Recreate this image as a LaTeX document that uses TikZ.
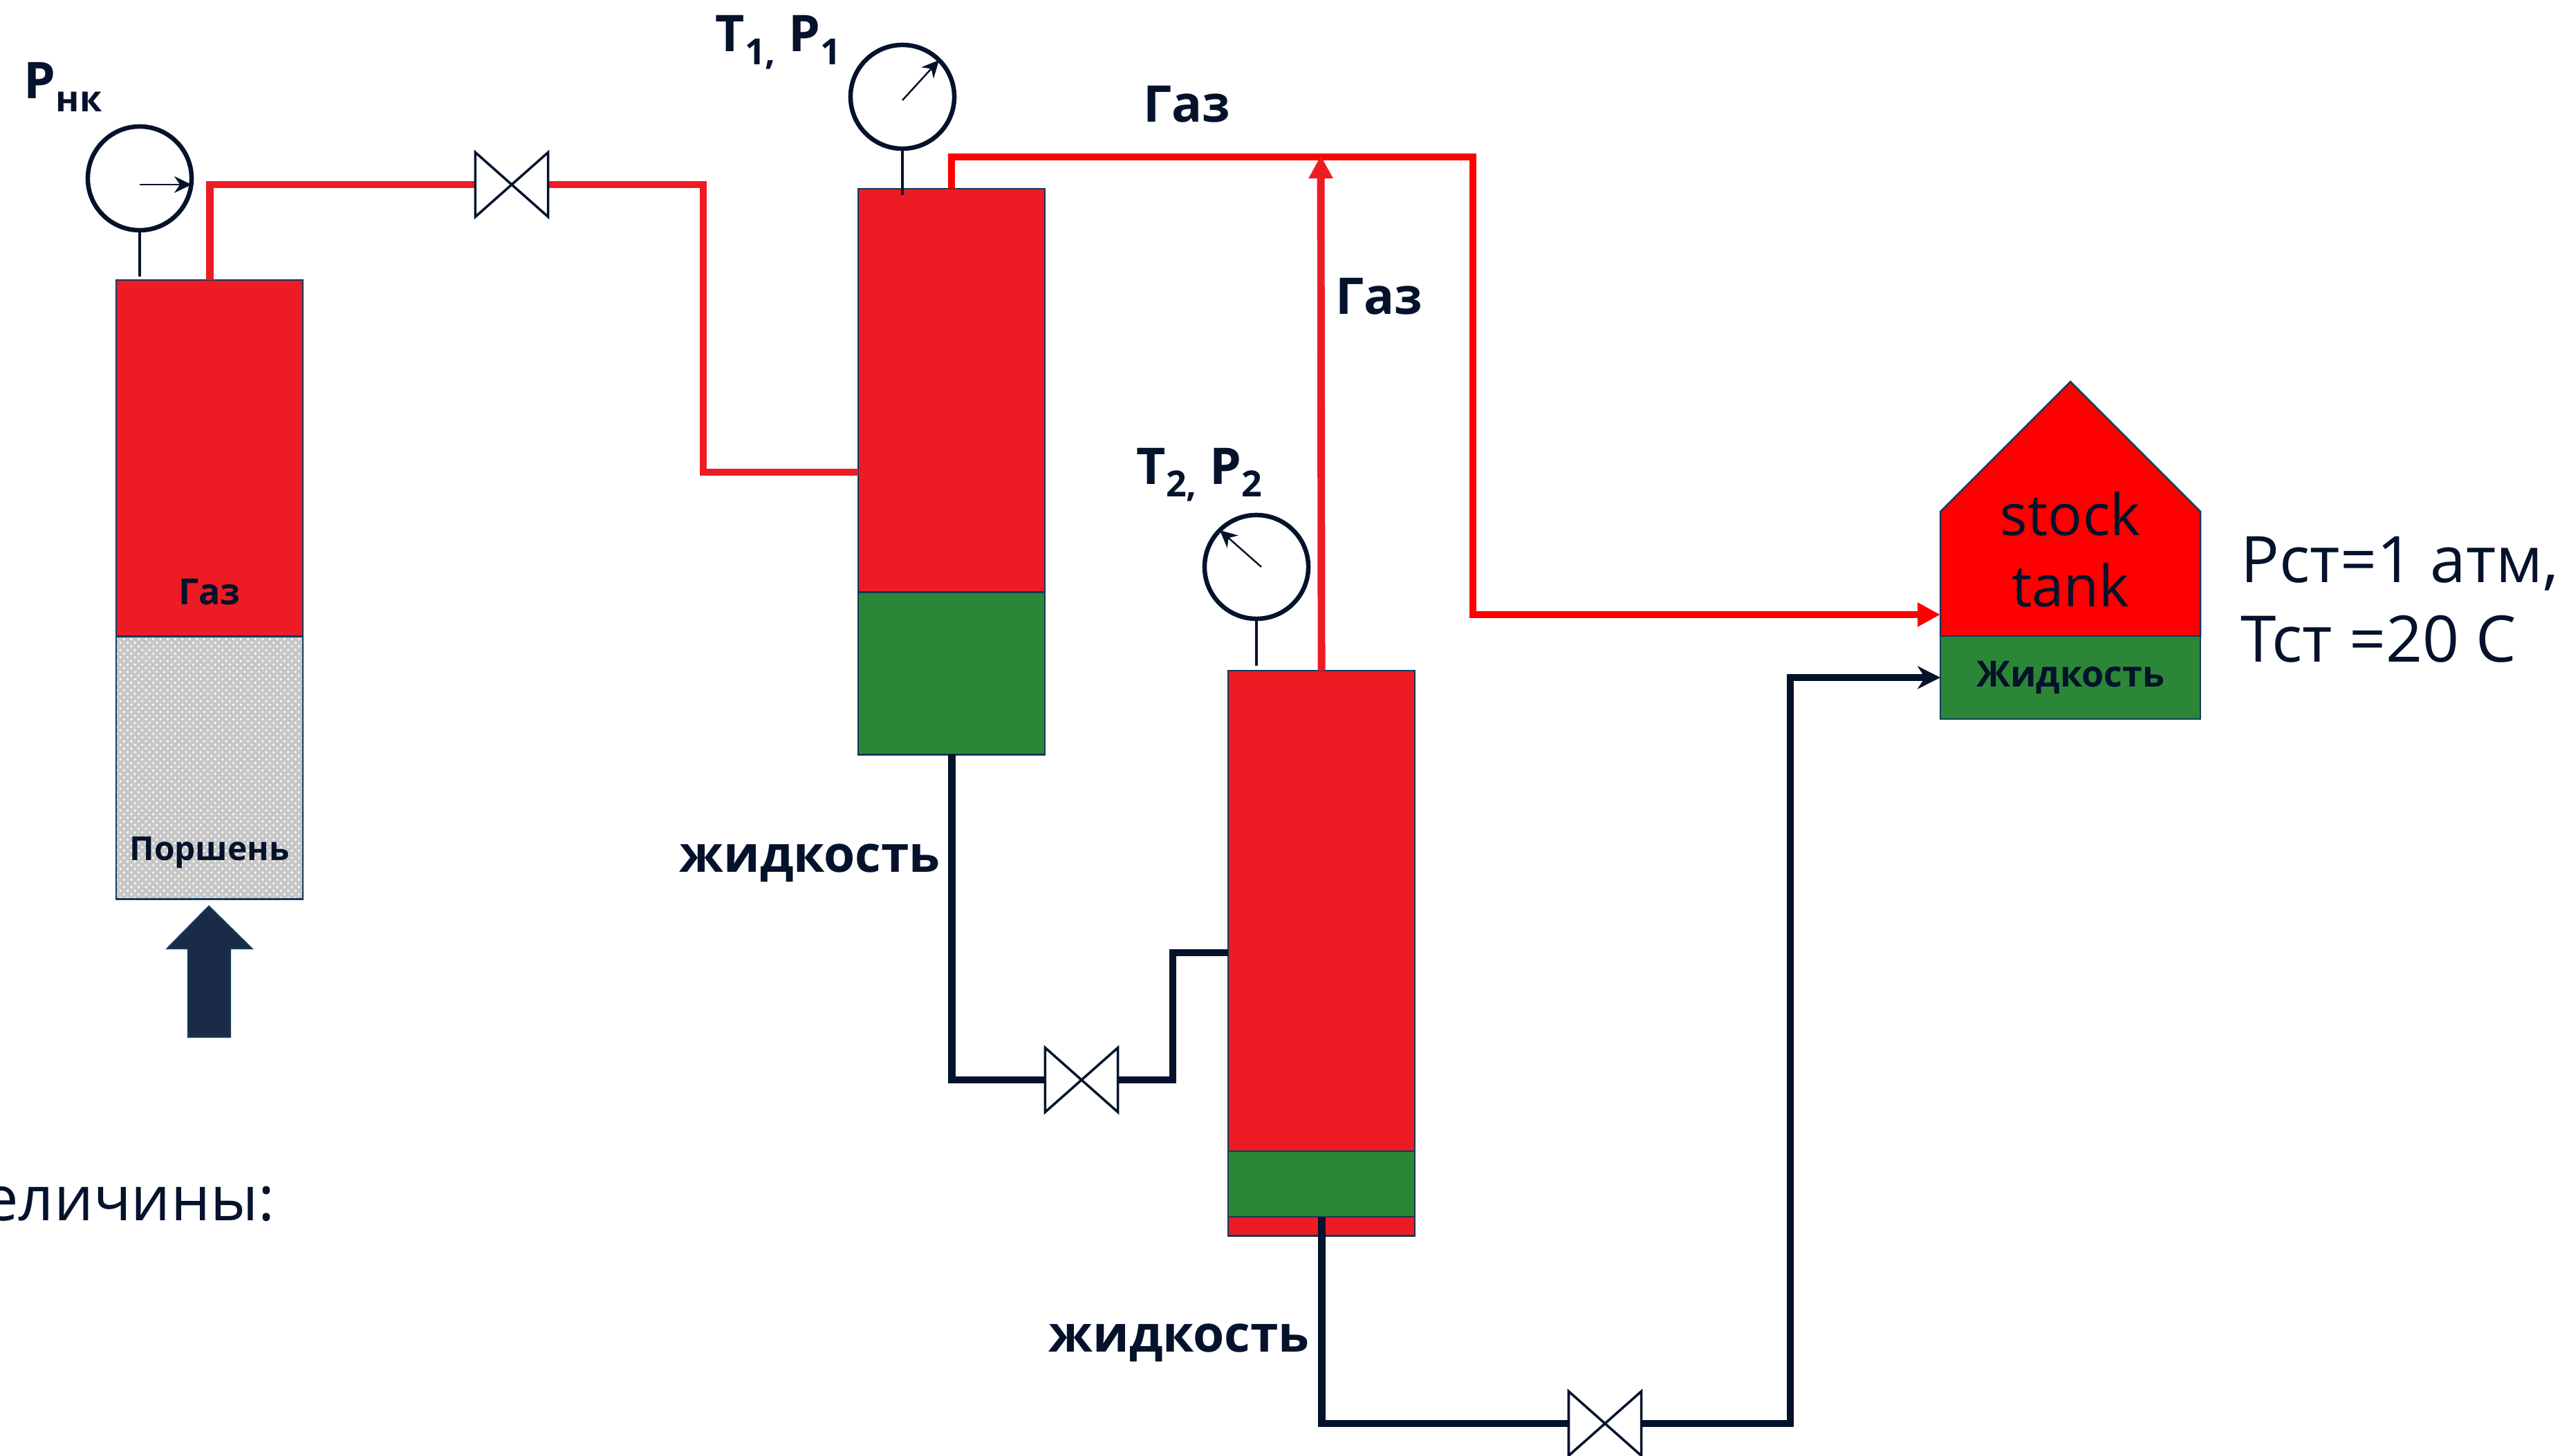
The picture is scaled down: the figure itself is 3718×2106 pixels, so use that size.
\documentclass[tikz,border=0pt]{standalone}
\usepackage{fontspec}
\setmainfont{Open Sans}
\usepackage{xcolor}
\usetikzlibrary{positioning,arrows.meta,patterns}
\definecolor{ink}{HTML}{04122B}
\definecolor{rim}{HTML}{123A5C}
\definecolor{gasred}{HTML}{ED1C24}
\definecolor{liqgreen}{HTML}{2B8737}
\definecolor{pushblue}{HTML}{1B2A47}
\newcommand{\lblfont}{\fontsize{20.8}{25}\selectfont\bfseries}
\newcommand{\subs}[1]{\raisebox{-.18cm}{\fontsize{14.8}{17}\selectfont #1}}

\begin{document}
\begin{tikzpicture}[x=0.01cm, y=-0.01cm, text=ink,
  vessel/.style={draw=rim, line width=0.7pt, minimum width=2.7cm, inner sep=0pt, outer sep=0pt},
  gas/.style={vessel, fill=gasred},
  liquid/.style={vessel, fill=liqgreen},
  gauge/.style={circle, draw=ink, line width=1.85pt, fill=white, minimum size=1.5cm, inner sep=0pt, outer sep=0pt},
  valve/.style={minimum width=1.05cm, minimum height=.93cm, inner sep=0pt, outer sep=0pt},
  valveline/.style={draw=ink, fill=white, line width=1pt, miter limit=10},
  stem/.style={draw=ink, line width=1.2pt},
  needle/.style={-{Stealth[length=.25cm, width=.24cm]}, draw=ink, line width=0.7pt},
  gaspipe/.style={draw=gasred, line width=3.1pt},
  redpipe/.style={draw=red, line width=3.1pt},
  liqpipe/.style={draw=ink, line width=3.1pt},
  lbl/.style={font=\lblfont, anchor=base west, inner sep=0pt},
  big/.style={font=\fontsize{26.4}{32}\selectfont, anchor=base west, inner sep=0pt}]
\useasboundingbox (0,0) rectangle (3718,2106);
\node[gas, minimum height=5.15cm, anchor=north west] (g0) at (168,405) {};
\node[vessel, fill=black!22, minimum height=3.8cm, below=0pt of g0] (piston) {};
\fill[pattern=crosshatch dots, pattern color=white] (piston.north west) rectangle (piston.south east);
\draw[vessel] (piston.north west) rectangle (piston.south east);
\node[gas, minimum height=5.83cm, anchor=north west] (g1) at (1241,273) {};
\node[liquid, minimum height=2.35cm, below=0pt of g1] (l1) {};
\node[gas, minimum height=8.17cm, anchor=north west] (g2) at (1776,970) {};
\node[liquid, minimum height=.95cm, anchor=north] (l2) at (g2.south |- 0,1665) {};
\draw[draw=rim, line width=0.7pt, fill=red] (2806,920) -- (2806,740) -- (2994,552) -- (3182,740) -- (3182,920) -- cycle;
\node[liquid, minimum width=3.76cm, minimum height=1.2cm, anchor=north west, font=\fontsize{14.8}{17}\selectfont\bfseries] (l3) at (2806,920) {Жидкость};
\coordinate (tin) at (2806,889);
\node[gauge] (p0) at (202,258) {};
\node[gauge] (p1) at (1305,140) {};
\node[gauge] (p2) at (1817,820) {};
\coordinate (s0) at (202,400);
\coordinate (s1) at (1305,282);
\coordinate (s2) at (1817,963);
\draw[stem] (p0) -- (s0); \draw[stem] (p1) -- (s1); \draw[stem] (p2) -- (s2);
\draw[needle] ([yshift=-.09cm]p0.center) -- ([yshift=-.09cm]p0.east);
\draw[needle] ([yshift=-.05cm]p1.center) -- (p1.45);
\draw[needle] ([xshift=.07cm]p2.center) -- (p2.135);
\node[valve] (v0) at (740,267) {};
\node[valve] (v1) at (1564,1562) {};
\node[valve] (v2) at (2321,2059) {};
\coordinate (b0) at (1017,683);
\coordinate (b1) at (2130,889);
\coordinate (b2) at (1696,1378);
\coordinate (b3) at (2589,980);
\coordinate (top1) at (1376,227);
\coordinate (tip2) at (1910,225);
\draw[gaspipe] (g0.north) |- (v0.west);
\draw[gaspipe] (v0.east) -| (b0) -- (b0 -| g1.west);
\draw[redpipe, -{Triangle[length=.33cm, width=.33cm]}] (g1.north -| top1) |- (b1 |- top1) -- (b1) -- (tin);
\draw[gaspipe, -{Triangle[length=.33cm, width=.33cm]}] (g2.north) -- (tip2);
\draw[liqpipe] (l1.south) |- (v1.west);
\draw[liqpipe] (v1.east) -| (b2) -- (b2 -| g2.west);
\draw[liqpipe] (l2.south) |- (v2.west);
\draw[liqpipe, -{Stealth[length=.33cm, width=.33cm]}] (v2.east) -| (b3) -- (l3.west |- b3);
\foreach \v in {v0,v1,v2} \draw[valveline] (\v.north west) -- (\v.south east) -- (\v.north east) -- (\v.south west) -- cycle;
\filldraw[draw=rim, fill=pushblue, line width=0.7pt] (302,1311) -- (364,1372) -- (333,1372) -- (333,1500) -- (272,1500) -- (272,1372) -- (242,1372) -- cycle;
\node[lbl] (tp0) at (34,143) {Р\subs{нк}};
\node[lbl] (tp1) at (1034,75) {Т\subs{1,} Р\subs{1}};
\node[lbl] (tp2) at (1643,700) {Т\subs{2,} Р\subs{2}};
\node[lbl] (gl1) at (1653,176) {Газ};
\node[lbl] (gl2) at (1931,454) {Газ};
\node[lbl] (ll1) at (982,1261) {жидкость};
\node[lbl] (ll2) at (1516,1955) {жидкость};
\node[font=\fontsize{14.8}{17}\selectfont\bfseries, inner sep=0pt] (gl0) at (303,856) {Газ};
\node[font=\fontsize{13.6}{17}\selectfont\bfseries, inner sep=0pt, anchor=base] (pl) at (303,1244) {Поршень};
\node[font=\fontsize{23.6}{29.3}\selectfont, align=center, inner sep=0pt] (st) at (2994,795) {stock\\tank};
\node[big] (pst) at (3240,842) {Рст=1 атм,};
\node[big] (tst) at (3240,957) {Тст =20 С};
\node[font=\fontsize{25.6}{31}\selectfont, anchor=base east, inner sep=0pt] (vel) at (398,1765) {еличины:};
\end{tikzpicture}
\end{document}
